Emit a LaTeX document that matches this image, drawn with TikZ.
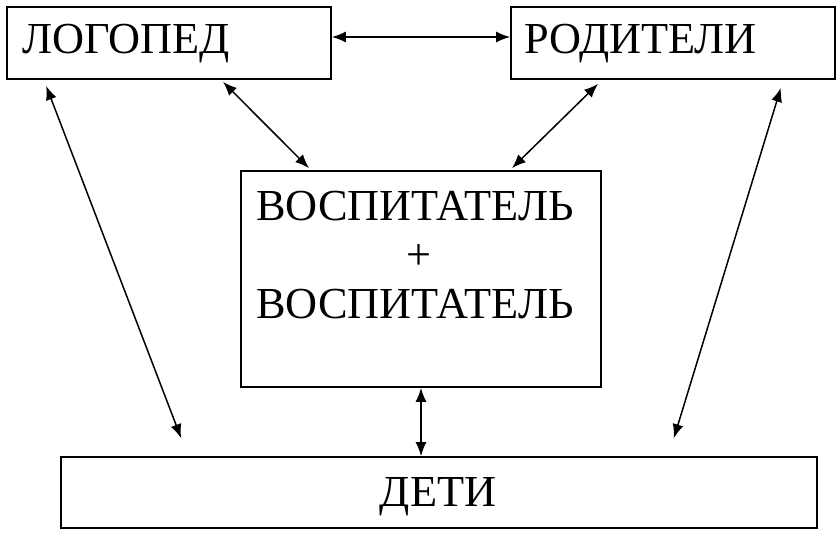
\documentclass[tikz,border=0pt]{standalone}
\usepackage{fontspec}
\setmainfont{Liberation Serif}
\usetikzlibrary{arrows.meta,calc}
\begin{document}
\begin{tikzpicture}[x=1pt,y=-1pt,
  box/.style={draw,line width=1.7pt,inner sep=0pt},
  lbl/.style={inner sep=0pt,font=\fontsize{44.3}{49}\selectfont},
  link/.style={line width=1.5pt,{Latex[length=14pt,width=11pt]}-{Latex[length=14pt,width=11pt]}}]
\useasboundingbox[fill=white] (0,0) rectangle (840,538);
% boxes
\node[box,minimum width=324pt,minimum height=72pt] (logo) at (169,43) {};
\node[box,minimum width=324pt,minimum height=72pt] (rod) at (673,43) {};
\node[box,minimum width=360pt,minimum height=216pt] (vosp) at (421,279) {};
\node[box,minimum width=756pt,minimum height=71pt] (deti) at (439,492.5) {};
% texts
\node[lbl,anchor=base west] (tlogo) at (22,53) {ЛОГОПЕД};
\node[lbl,anchor=base west] (trod) at (524,53) {РОДИТЕЛИ};
\node[lbl,anchor=base] (tv1) at (415,220) {ВОСПИТАТЕЛЬ};
\node[lbl,anchor=base] (tplus) at (419,269) {+};
\node[lbl,anchor=base] (tv2) at (415,318) {ВОСПИТАТЕЛЬ};
\node[lbl,anchor=base] (tdeti) at (438,506) {ДЕТИ};
% connectors
\draw[link] ($(logo.east)+(0,-6)$) -- ($(rod.west)+(0,-6)$);
\draw[link] ($(logo.south)+(54,2)$) -- ($(vosp.north)+(-112,-2)$);
\draw[link] ($(rod.south)+(-75,4)$) -- ($(vosp.north)+(91,-2)$);
\draw[link] ($(logo.south west)+(40,6)$) -- ($(deti.north west)+(121,-18)$);
\draw[link] ($(rod.south east)+(-55,8)$) -- ($(deti.north east)+(-144,-18)$);
\draw[link] (vosp.south) -- (vosp.south |- deti.north);
\end{tikzpicture}
\end{document}
